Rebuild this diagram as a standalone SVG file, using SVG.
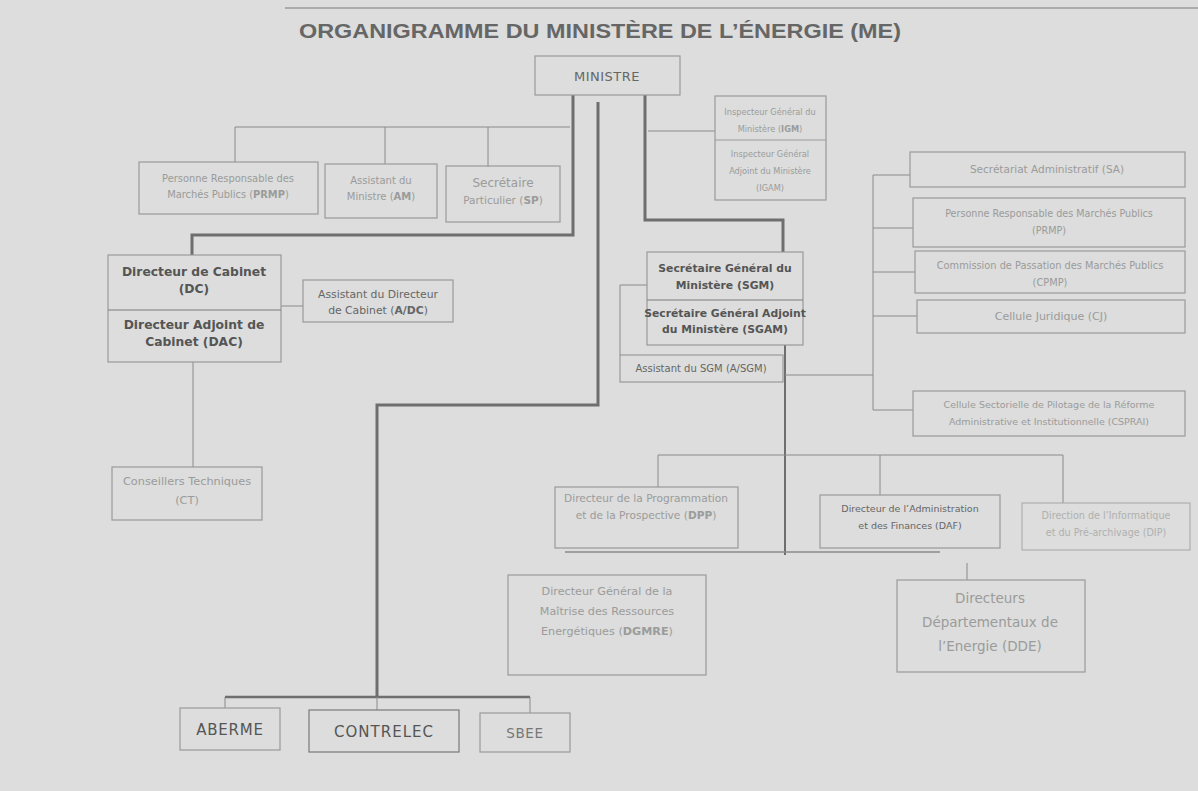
<svg xmlns="http://www.w3.org/2000/svg" width="1198" height="791" viewBox="0 0 1198 791">
<style>
.bx{fill:none;stroke:#9a9a9a;stroke-width:1.2}
.t{font-family:"DejaVu Sans","Liberation Sans",Arial,sans-serif;text-anchor:middle;fill:#9b9b9b}
.tm{font-family:"DejaVu Sans","Liberation Sans",Arial,sans-serif;text-anchor:middle;fill:#666}
.tb{font-family:"DejaVu Sans","Liberation Sans",Arial,sans-serif;text-anchor:middle;fill:#555;font-weight:bold}
.big{font-family:"DejaVu Sans","Liberation Sans",Arial,sans-serif;text-anchor:middle;fill:#555}
.thin{fill:none;stroke:#8a8a8a;stroke-width:1}
.thick{fill:none;stroke:#6e6e6e;stroke-width:3}
</style>
<rect width="1198" height="791" fill="#dcdddc"/>
<line x1="285" y1="8" x2="1198" y2="8" stroke="#9a9a9a" stroke-width="1.5"/>
<text x="600" y="38" font-family="Liberation Sans,Arial,sans-serif" font-size="21" font-weight="bold" fill="#666" text-anchor="middle" textLength="602" lengthAdjust="spacingAndGlyphs">ORGANIGRAMME DU MINISTÈRE DE L’ÉNERGIE (ME)</text>

<g id="connectors">
  <path class="thick" d="M573,95 V235 H192 V255"/>
  <path class="thin" d="M570,127 H235 V162 M385,127 V164 M488,127 V167"/>
  <path class="thick" d="M598,102 V405 H377 V697"/>
  <path class="thick" d="M645,95 V220 H783 V252"/>
  <path class="thin" d="M648,131 H715"/>
  <path class="thin" d="M281,306 H303"/>
  <path class="thin" d="M193,362 V467"/>
  <path class="thin" d="M647,285 H620 V355"/>
  <path class="thick" d="M785,345 V555" style="stroke-width:2"/>
  <path class="thin" d="M785,375 H873"/>
  <path class="thin" d="M873,175 V410 M873,175 H910 M873,228 H913 M873,272 H915 M873,316 H917 M873,410 H913"/>
  <path class="thin" d="M658,455 H1063 M658,455 V487 M880,455 V495 M1063,455 V503"/>
  <path class="thin" d="M565,552 H940" style="stroke-width:1.5"/>
  <path class="thin" d="M967,563 V580"/>
  <path class="thick" d="M225,697 H530" style="stroke-width:2.5"/>
  <path class="thin" d="M225,697 V708 M377,697 V710 M530,697 V713"/>
</g>

<g id="ministre"><rect class="bx" x="535" y="56" width="145" height="39"/><text class="tm" x="607" y="81" font-size="13" letter-spacing="0.5">MINISTRE</text></g>

<g id="prmp1"><rect class="bx" x="139" y="162" width="179" height="52"/><text class="t" x="228" y="182" font-size="9.9">Personne Responsable des</text><text class="t" x="228" y="198" font-size="9.9">Marchés Publics (<tspan font-weight="bold">PRMP</tspan>)</text></g>
<g id="am"><rect class="bx" x="325" y="164" width="112" height="54"/><text class="t" x="381" y="184" font-size="10">Assistant du</text><text class="t" x="381" y="200" font-size="10">Ministre (<tspan font-weight="bold">AM</tspan>)</text></g>
<g id="sp"><rect class="bx" x="446" y="166" width="114" height="56"/><text class="t" x="503" y="187" font-size="12">Secrétaire</text><text class="t" x="503" y="204" font-size="10.5">Particulier (<tspan font-weight="bold">SP</tspan>)</text></g>

<g id="igm"><rect class="bx" x="715" y="96" width="111" height="104"/><line x1="715" y1="140" x2="826" y2="140" stroke="#9a9a9a"/>
<text class="t" x="770" y="115" font-size="8.2">Inspecteur Général du</text><text class="t" x="770" y="132" font-size="8.2">Ministère (<tspan font-weight="bold">IGM</tspan>)</text>
<text class="t" x="770" y="157" font-size="8.2">Inspecteur Général</text><text class="t" x="770" y="174" font-size="8.2">Adjoint du Ministère</text><text class="t" x="770" y="191" font-size="8.2">(IGAM)</text></g>

<g id="dc"><rect class="bx" x="108" y="255" width="173" height="107" stroke="#7a7a7a"/><line x1="108" y1="310" x2="281" y2="310" stroke="#7a7a7a"/>
<text class="tb" x="194" y="276" font-size="12.3">Directeur de Cabinet</text><text class="tb" x="194" y="293" font-size="12.3">(DC)</text>
<text class="tb" x="194" y="329" font-size="12.3">Directeur Adjoint de</text><text class="tb" x="194" y="346" font-size="12.3">Cabinet (DAC)</text></g>
<g id="adc"><rect class="bx" x="303" y="280" width="150" height="42" stroke="#7a7a7a"/><text class="tm" x="378" y="298" font-size="10.8">Assistant du Directeur</text><text class="tm" x="378" y="314" font-size="10.8">de Cabinet (<tspan font-weight="bold">A/DC</tspan>)</text></g>
<g id="ct"><rect class="bx" x="112" y="467" width="150" height="53"/><text class="t" x="187" y="485" font-size="11.3">Conseillers Techniques</text><text class="t" x="187" y="504" font-size="11.3">(CT)</text></g>

<g id="sgm"><rect class="bx" x="647" y="252" width="156" height="93" stroke="#7a7a7a"/><line x1="647" y1="300" x2="803" y2="300" stroke="#7a7a7a"/>
<text class="tb" x="725" y="272" font-size="10.8">Secrétaire Général du</text><text class="tb" x="725" y="289" font-size="10.8">Ministère (SGM)</text>
<text class="tb" x="725" y="317" font-size="10.8">Secrétaire Général Adjoint</text><text class="tb" x="725" y="333" font-size="10.8">du Ministère (SGAM)</text></g>
<g id="asgm"><rect class="bx" x="620" y="355" width="163" height="27" stroke="#7a7a7a"/><text class="tm" x="701" y="372" font-size="10">Assistant du SGM (A/SGM)</text></g>

<g id="sa"><rect class="bx" x="910" y="152" width="275" height="35"/><text class="t" x="1047" y="173" font-size="10.5">Secrétariat Administratif (SA)</text></g>
<g id="prmp2"><rect class="bx" x="913" y="198" width="272" height="49"/><text class="t" x="1049" y="217" font-size="9.6">Personne Responsable des Marchés Publics</text><text class="t" x="1049" y="234" font-size="9.6">(PRMP)</text></g>
<g id="cpmp"><rect class="bx" x="915" y="251" width="270" height="42"/><text class="t" x="1050" y="269" font-size="9.8">Commission de Passation des Marchés Publics</text><text class="t" x="1050" y="286" font-size="9.8">(CPMP)</text></g>
<g id="cj"><rect class="bx" x="917" y="300" width="268" height="33"/><text class="t" x="1051" y="320" font-size="11">Cellule Juridique (CJ)</text></g>
<g id="csprai"><rect class="bx" x="913" y="391" width="272" height="45"/><text class="t" x="1049" y="408" font-size="9.5">Cellule Sectorielle de Pilotage de la Réforme</text><text class="t" x="1049" y="425" font-size="9.5">Administrative et Institutionnelle (CSPRAI)</text></g>

<g id="dpp"><rect class="bx" x="555" y="487" width="183" height="61"/><text class="t" x="646" y="502" font-size="10.6">Directeur de la Programmation</text><text class="t" x="646" y="519" font-size="10.6">et de la Prospective (<tspan font-weight="bold">DPP</tspan>)</text></g>
<g id="daf"><rect class="bx" x="820" y="495" width="180" height="53" stroke="#7a7a7a"/><text class="tm" x="910" y="512" font-size="9.5">Directeur de l’Administration</text><text class="tm" x="910" y="529" font-size="9.5">et des Finances (DAF)</text></g>
<g id="dip"><rect class="bx" x="1022" y="503" width="168" height="47" style="stroke:#b0b0b0"/><text class="t" x="1106" y="519" style="fill:#b0b0b0" font-size="9.6">Direction de l’Informatique</text><text class="t" x="1106" y="536" style="fill:#b0b0b0" font-size="9.6">et du Pré-archivage (DIP)</text></g>

<g id="dgmre"><rect class="bx" x="508" y="575" width="198" height="100"/><text class="t" x="607" y="595" font-size="11.2">Directeur Général de la</text><text class="t" x="607" y="615" font-size="11.2">Maîtrise des Ressources</text><text class="t" x="607" y="635" font-size="11.2">Energétiques (<tspan font-weight="bold">DGMRE</tspan>)</text></g>
<g id="dde"><rect class="bx" x="897" y="580" width="188" height="92"/><text class="t" x="990" y="603" font-size="13.5">Directeurs</text><text class="t" x="990" y="627" font-size="13.5">Départementaux de</text><text class="t" x="990" y="651" font-size="13.5">l’Energie (DDE)</text></g>

<g id="aberme"><rect class="bx" x="180" y="708" width="100" height="42"/><text class="big" x="230" y="735" font-size="15" letter-spacing="0.8">ABERME</text></g>
<g id="contrelec"><rect class="bx" x="309" y="710" width="150" height="42" style="stroke:#7a7a7a"/><text class="big" x="384" y="737" font-size="15" letter-spacing="1">CONTRELEC</text></g>
<g id="sbee"><rect class="bx" x="480" y="713" width="90" height="39"/><text class="big" x="525" y="738" font-size="13.5" style="fill:#777" letter-spacing="0.6">SBEE</text></g>
</svg>
